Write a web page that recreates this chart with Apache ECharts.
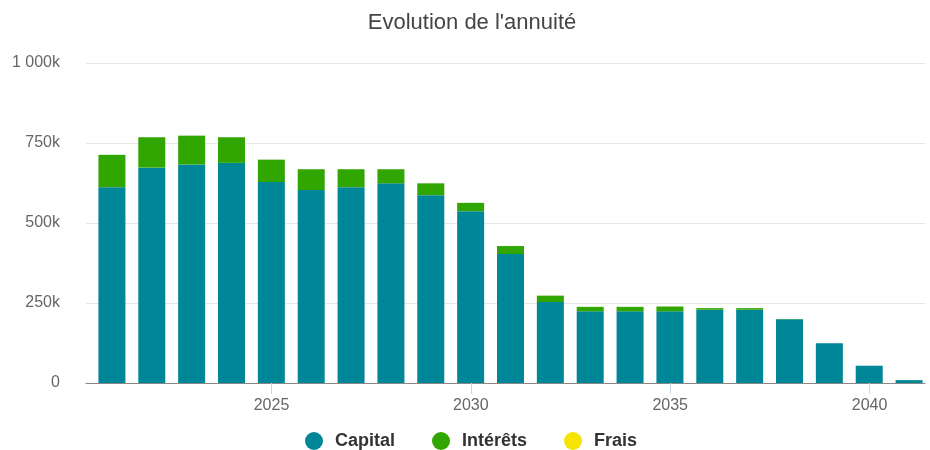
<!DOCTYPE html>
<html>
<head>
<meta charset="utf-8">
<title>Evolution de l'annuité</title>
<script src="https://cdn.jsdelivr.net/npm/echarts@6/dist/echarts.min.js"></script>
<style>
    html, body { margin: 0; padding: 0; background: #fff; }
    #main { width: 930px; height: 450px; }
</style>
</head>
<body>
<div id="main"></div>
<script>
// données (en euros)
var years = ['2021', '2022', '2023', '2024', '2025', '2026', '2027', '2028', '2029', '2030', '2031',
    '2032', '2033', '2034', '2035', '2036', '2037', '2038', '2039', '2040', '2041'];
var capital = [612000, 673000, 683000, 688000, 628000, 603000, 612000, 624000, 587000, 537000, 403000,
    253000, 224000, 224000, 224000, 229000, 229000, 199000, 124000, 54000, 9000];
var interets = [101000, 95000, 90000, 80000, 70000, 65000, 56000, 44000, 37000, 26000, 25000,
    20000, 14000, 14000, 15000, 5000, 5000, 1000, 0, 0, 0];
var frais = [0, 0, 0, 0, 0, 0, 0, 0, 0, 0, 0, 0, 0, 0, 0, 0, 0, 0, 0, 0, 0];
var xTicks = [2025, 2030, 2035, 2040];

var myChart = echarts.init(document.getElementById('main'));

var fontFamily = 'Liberation Sans, Arial, sans-serif';

var option = {
    animation: false,
    color: ['#008797', '#31a600', '#f5e400'],
    title: {
        text: "Evolution de l'annuité",
        left: 472,
        textAlign: 'center',
        top: 12,
        padding: 0,
        textStyle: {
            fontFamily: fontFamily,
            fontSize: 22,
            fontWeight: 'normal',
            color: '#444444'
        }
    },
    legend: {
        data: ['Capital', 'Intérêts', 'Frais'],
        icon: 'circle',
        left: 305,
        top: 432,
        padding: 0,
        itemWidth: 18,
        itemHeight: 18,
        itemGap: 37,
        textStyle: {
            fontFamily: fontFamily,
            fontSize: 18,
            fontWeight: 'bold',
            color: '#333333',
            padding: [0, 0, 0, 7]
        }
    },
    // grille 0 : axes visibles ; grille 1 : colonnes (axe catégorie caché)
    grid: [{
        left: 86,
        right: 5,
        top: 63,
        bottom: 67
    }, {
        left: 92,
        right: 1,
        top: 63,
        bottom: 67
    }],
    xAxis: [{
        type: 'value',
        gridIndex: 0,
        min: 2020.348,
        max: 2041.39,
        splitLine: { show: false },
        axisLine: {
            show: true,
            onZero: false,
            lineStyle: { color: '#888888', width: 1 }
        },
        axisTick: {
            show: true,
            length: 11,
            customValues: xTicks,
            lineStyle: { color: '#ccd6eb' }
        },
        axisLabel: {
            customValues: xTicks,
            margin: 15,
            fontFamily: fontFamily,
            fontSize: 16,
            color: '#666666',
            formatter: function (v) {
                return String(v);
            }
        }
    }, {
        type: 'category',
        gridIndex: 1,
        data: years,
        boundaryGap: true,
        axisLine: { show: false },
        axisTick: { show: false },
        axisLabel: { show: false },
        splitLine: { show: false }
    }],
    yAxis: [{
        type: 'value',
        gridIndex: 0,
        min: 0,
        max: 1000000,
        interval: 250000,
        axisLine: { show: false },
        axisTick: { show: false },
        splitLine: { lineStyle: { color: '#e6e6e6' } },
        axisLabel: {
            margin: 26,
            fontFamily: fontFamily,
            fontSize: 16,
            color: '#666666',
            formatter: function (v) {
                if (v === 0) return '0';
                if (v === 1000000) return '1 000k';
                return (v / 1000) + 'k';
            }
        }
    }, {
        type: 'value',
        gridIndex: 1,
        min: 0,
        max: 1000000,
        interval: 250000,
        show: false
    }],
    series: [{
        name: 'Capital',
        type: 'bar',
        xAxisIndex: 1,
        yAxisIndex: 1,
        stack: 'annuite',
        barWidth: 27,
        itemStyle: { color: '#008797' },
        data: capital
    }, {
        name: 'Intérêts',
        type: 'bar',
        xAxisIndex: 1,
        yAxisIndex: 1,
        stack: 'annuite',
        barWidth: 27,
        itemStyle: { color: '#31a600' },
        data: interets
    }, {
        name: 'Frais',
        type: 'bar',
        xAxisIndex: 1,
        yAxisIndex: 1,
        stack: 'annuite',
        barWidth: 27,
        itemStyle: { color: '#f5e400' },
        data: frais
    }]
};

myChart.setOption(option);
</script>
</body>
</html>
